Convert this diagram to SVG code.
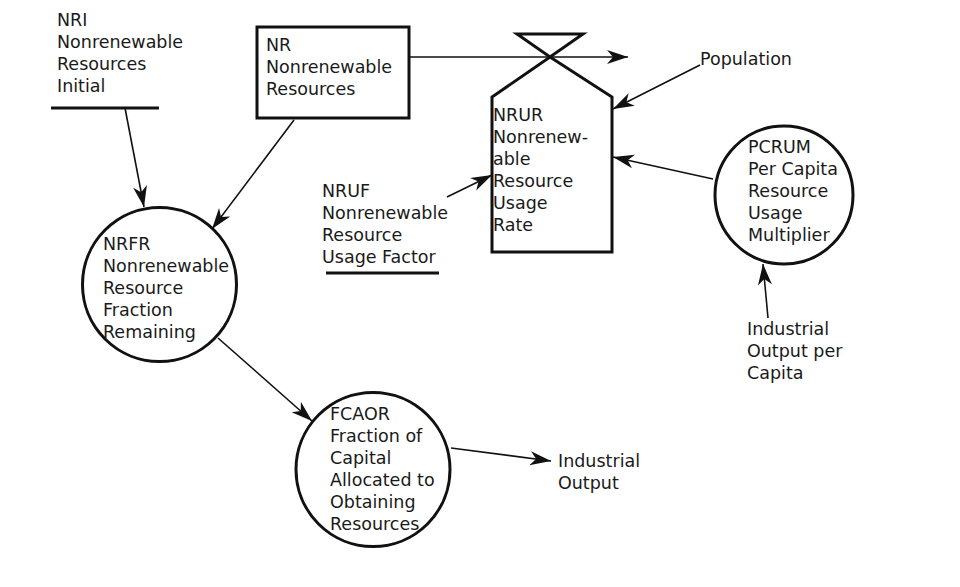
<svg xmlns="http://www.w3.org/2000/svg" width="960" height="587" viewBox="0 0 960 587">
<defs>
<marker id="ah" markerUnits="userSpaceOnUse" markerWidth="24" markerHeight="16" refX="22" refY="8" orient="auto" viewBox="0 0 24 16">
<path d="M22 8 L1 1 L7 8 L1 15 Z" fill="#111"/>
</marker>
<style>
text{font-family:"DejaVu Sans","Liberation Sans",sans-serif;font-size:17.5px;fill:#1a1a1a}
.shape{fill:#fff;stroke:#111;stroke-width:3}
.bar{stroke:#111;stroke-width:3}
.conn{stroke:#111;stroke-width:1.6;fill:none;marker-end:url(#ah)}
</style>
</defs>
<rect width="960" height="587" fill="#fff"/>
<g id="connectors">
<line class="conn" x1="125" y1="108" x2="144" y2="207"/>
<line class="conn" x1="294" y1="120" x2="212" y2="229"/>
<line class="conn" x1="218" y1="338" x2="312" y2="421"/>
<line class="conn" x1="451" y1="448" x2="551" y2="461"/>
<line class="conn" x1="409" y1="57" x2="628" y2="57"/>
<line class="conn" x1="700" y1="65" x2="613" y2="109"/>
<line class="conn" x1="713" y1="179" x2="613" y2="157"/>
<line class="conn" x1="447" y1="197" x2="492" y2="175"/>
<line class="conn" x1="768" y1="318" x2="763" y2="264"/>
</g>
<g id="NRI">
<text x="57" y="26">NRI</text>
<text x="57" y="48">Nonrenewable</text>
<text x="57" y="70">Resources</text>
<text x="57" y="92">Initial</text>
<line class="bar" x1="51" y1="108" x2="159" y2="108"/>
</g>
<g id="NR">
<rect class="shape" x="257" y="27" width="152" height="91"/>
<text x="266" y="51">NR</text>
<text x="266" y="73">Nonrenewable</text>
<text x="266" y="95">Resources</text>
</g>
<g id="NRUR">
<path class="shape" d="M550 57 L612 97 L612 252 L492 252 L492 97 Z"/>
<path class="shape" d="M517 34 L583 34 L550 57 Z"/>
<text x="493" y="121">NRUR</text>
<text x="493" y="143">Nonrenew-</text>
<text x="493" y="165">able</text>
<text x="493" y="187">Resource</text>
<text x="493" y="209">Usage</text>
<text x="493" y="231">Rate</text>
</g>
<g id="Population">
<text x="700" y="65">Population</text>
</g>
<g id="PCRUM">
<circle class="shape" cx="784" cy="195" r="69"/>
<text x="748" y="153">PCRUM</text>
<text x="748" y="175">Per Capita</text>
<text x="748" y="197">Resource</text>
<text x="748" y="219">Usage</text>
<text x="748" y="241">Multiplier</text>
</g>
<g id="IOPC">
<text x="747" y="335">Industrial</text>
<text x="747" y="357">Output per</text>
<text x="747" y="379">Capita</text>
</g>
<g id="NRUF">
<text x="322" y="197">NRUF</text>
<text x="322" y="219">Nonrenewable</text>
<text x="322" y="241">Resource</text>
<text x="322" y="263">Usage Factor</text>
<line class="bar" x1="326" y1="273" x2="439" y2="273"/>
</g>
<g id="NRFR">
<circle class="shape" cx="159.5" cy="284.5" r="77"/>
<text x="103" y="250">NRFR</text>
<text x="103" y="272">Nonrenewable</text>
<text x="103" y="294">Resource</text>
<text x="103" y="316">Fraction</text>
<text x="103" y="338">Remaining</text>
</g>
<g id="FCAOR">
<circle class="shape" cx="373" cy="469.5" r="77"/>
<text x="330" y="420">FCAOR</text>
<text x="330" y="442">Fraction of</text>
<text x="330" y="464">Capital</text>
<text x="330" y="486">Allocated to</text>
<text x="330" y="508">Obtaining</text>
<text x="330" y="530">Resources</text>
</g>
<g id="IO">
<text x="558" y="467">Industrial</text>
<text x="558" y="489">Output</text>
</g>
</svg>
